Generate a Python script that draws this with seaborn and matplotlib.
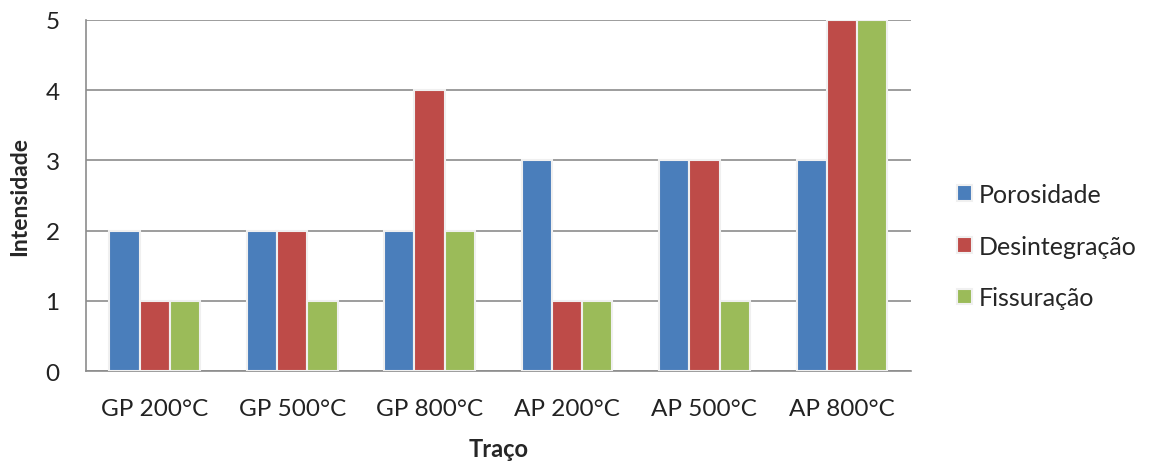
import matplotlib
matplotlib.use("Agg")
import matplotlib.pyplot as plt
import seaborn as sns
import pandas as pd

categories = ["GP 200°C", "GP 500°C", "GP 800°C", "AP 200°C", "AP 500°C", "AP 800°C"]
porosidade = [2, 2, 2, 3, 3, 3]
desintegracao = [1, 2, 4, 1, 3, 5]
fissuracao = [1, 1, 2, 1, 1, 5]
series_names = ["Porosidade", "Desintegração", "Fissuração"]
colors = ["#4A7EBB", "#BE4B48", "#9BBB59"]

df = pd.DataFrame({
    "Traço": categories * 3,
    "Intensidade": porosidade + desintegracao + fissuracao,
    "Série": [series_names[0]] * 6 + [series_names[1]] * 6 + [series_names[2]] * 6,
})

sns.set_theme(style="white")
plt.rcParams["font.family"] = ["Lato", "DejaVu Sans"]

fig = plt.figure(figsize=(11.5, 4.64), dpi=100)
ax = fig.add_axes([0.0748, 0.198, 0.717, 0.757])

sns.barplot(data=df, x="Traço", y="Intensidade", hue="Série",
            palette=colors, saturation=1, width=0.66, edgecolor="#f0f0f0",
            linewidth=1.5, ax=ax, zorder=3)

ax.set_ylim(0, 5)
ax.set_xlim(-0.5, 5.5)
ax.set_yticks(range(0, 6))
ax.yaxis.grid(True, color="#8c8c8c", linewidth=1.2, zorder=0)
ax.set_axisbelow(True)
for side in ["top", "right"]:
    ax.spines[side].set_visible(False)
for side in ["left", "bottom"]:
    ax.spines[side].set_color("#8c8c8c")
    ax.spines[side].set_linewidth(1.2)
ax.tick_params(axis="both", length=0, labelsize=17.5, colors="#222222")
ax.tick_params(axis="x", pad=19)
ax.tick_params(axis="y", pad=19)
ax.set_xlabel("Traço", fontsize=17, fontweight="bold", labelpad=13)
ax.set_ylabel("Intensidade", fontsize=16.5, fontweight="bold", labelpad=11)

handles, labels = ax.get_legend_handles_labels()
ax.legend(handles, labels, loc="center left", bbox_to_anchor=(1.056, 0.356),
          frameon=False, fontsize=18, handlelength=0.6, handleheight=0.6,
          handletextpad=0.3, labelspacing=1.15, borderpad=0, borderaxespad=0)

fig.savefig("out.png", dpi=100)
